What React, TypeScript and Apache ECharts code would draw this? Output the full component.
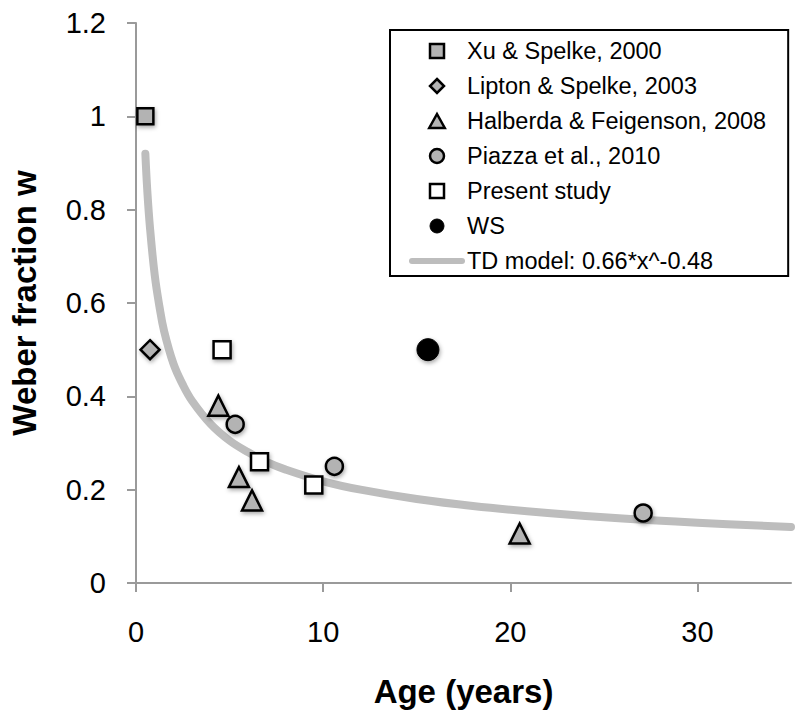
import React, { useEffect, useRef } from "react";
import * as echarts from "echarts";

const FONT = "'Liberation Sans', Arial, Helvetica, sans-serif";

const xuSpelke: number[][] = [[0.5, 1.0]];
const liptonSpelke: number[][] = [[0.75, 0.5]];
const halberda: number[][] = [[4.4, 0.38], [5.5, 0.227], [6.2, 0.177], [20.5, 0.106]];
const piazza: number[][] = [[5.3, 0.34], [10.6, 0.25], [27.1, 0.15]];
const presentStudy: number[][] = [[4.6, 0.5], [6.6, 0.26], [9.5, 0.21]];
const ws: number[][] = [[15.6, 0.5]];

const modelAges: number[] = [0.5, 0.6, 0.75, 1, 1.25, 1.5, 2, 2.5, 3, 4, 5, 6, 7, 8, 10, 12, 15, 18, 22, 26, 30, 35];
const modelW: number[] = [0.92, 0.843, 0.76, 0.66, 0.593, 0.54, 0.47, 0.425, 0.39, 0.34, 0.305, 0.28, 0.259, 0.243, 0.218, 0.2, 0.18, 0.165, 0.15, 0.138, 0.129, 0.12];

const xTicks: number[] = [0, 10, 20, 30];

const names = [
  "Xu & Spelke, 2000",
  "Lipton & Spelke, 2003",
  "Halberda & Feigenson, 2008",
  "Piazza et al., 2010",
  "Present study",
  "WS",
  "TD model: 0.66*x^-0.48",
];

const ICON_SQUARE = "path://M0,0 L10,0 L10,10 L0,10 Z";
const ICON_DIAMOND = "path://M5,0 L10,5 L5,10 L0,5 Z";
const ICON_TRIANGLE = "path://M5,0 L10,9 L0,9 Z";
const ICON_CIRCLE = "path://M0,5 A5,5 0 1,1 10,5 A5,5 0 1,1 0,5 Z";

export default function App() {
  const ref = useRef<HTMLDivElement>(null);
  useEffect(() => {
    if (!ref.current) return;
    const chart = echarts.init(ref.current, undefined, { renderer: "svg" });
    const shadow = {
      shadowBlur: 4,
      shadowColor: "rgba(0,0,0,0.35)",
      shadowOffsetX: 1,
      shadowOffsetY: 2,
    };
    const scatter = (name: string, data: number[][], symbol: string, size: number, fill: string, bw: number) => ({
      name,
      type: "scatter",
      data,
      symbol,
      symbolSize: size,
      z: 3,
      itemStyle: { color: fill, borderColor: "#000", borderWidth: bw, opacity: 1, ...shadow },
      emphasis: { disabled: true },
    });
    const icons = [ICON_SQUARE, ICON_DIAMOND, ICON_TRIANGLE, ICON_CIRCLE, ICON_SQUARE, ICON_CIRCLE];
    const legendData: any[] = names.slice(0, 6).map((n, i) => ({
      name: n,
      icon: icons[i],
      itemStyle: { borderColor: "#000", borderWidth: i === 5 ? 1 : 2.5 },
    }));
    legendData.push({
      name: names[6],
      itemStyle: { color: "rgba(0,0,0,0)", borderWidth: 0, opacity: 0 },
      lineStyle: { color: "#bdbdbd", width: 6, cap: "round" },
    });
    chart.setOption({
      animation: false,
      backgroundColor: "#fff",
      textStyle: { fontFamily: FONT },
      grid: { left: 136, right: 9, top: 23, bottom: 138, containLabel: false },
      legend: {
        orient: "vertical",
        left: 390,
        top: 30,
        padding: [9, 22, 3, 19],
        itemGap: 11,
        itemWidth: 50,
        itemHeight: 14,
        symbolKeepAspect: true,
        borderColor: "#000",
        borderWidth: 2,
        borderRadius: 0,
        backgroundColor: "#fff",
        data: legendData,
        itemStyle: { shadowBlur: 0, shadowOffsetX: 0, shadowOffsetY: 0 },
        textStyle: { fontFamily: FONT, fontSize: 23.5, color: "#000", lineHeight: 24 },
        selectedMode: false,
      },
      xAxis: {
        type: "value",
        min: 0,
        max: 35,
        interval: 10,
        name: "Age (years)",
        nameLocation: "middle",
        nameGap: 92,
        nameTextStyle: { fontFamily: FONT, fontSize: 33, fontWeight: "bold", color: "#000" },
        axisLine: { show: true, lineStyle: { color: "#9a9a9a", width: 2 } },
        axisTick: { show: true, inside: false, length: 9, lineStyle: { color: "#9a9a9a", width: 2 }, customValues: xTicks },
        axisLabel: { fontFamily: FONT, fontSize: 29, color: "#000", margin: 34, customValues: xTicks },
        splitLine: { show: false },
      },
      yAxis: {
        type: "value",
        min: 0,
        max: 1.2,
        interval: 0.2,
        name: "Weber fraction w",
        nameLocation: "middle",
        nameGap: 95,
        nameTextStyle: { fontFamily: FONT, fontSize: 33, fontWeight: "bold", color: "#000" },
        axisLine: { show: true, lineStyle: { color: "#9a9a9a", width: 2 } },
        axisTick: { show: true, inside: false, length: 9, lineStyle: { color: "#9a9a9a", width: 2 } },
        axisLabel: { fontFamily: FONT, fontSize: 29, color: "#000", margin: 30 },
        splitLine: { show: false },
      },
      series: [
        {
          name: names[6],
          type: "line",
          data: modelAges.map((a, i) => [a, modelW[i]]),
          smooth: 0.4,
          symbol: "none",
          showSymbol: false,
          z: 1,
          lineStyle: { color: "#bdbdbd", width: 8, cap: "round", join: "round" },
          itemStyle: { color: "#bdbdbd" },
          emphasis: { disabled: true },
        },
        scatter(names[0], xuSpelke, "rect", 16, "#b3b3b3", 2.5),
        scatter(names[1], liptonSpelke, "diamond", 19, "#b3b3b3", 2.5),
        scatter(names[2], halberda, "triangle", 20, "#b3b3b3", 2.5),
        scatter(names[3], piazza, "circle", 17, "#b3b3b3", 2.5),
        scatter(names[4], presentStudy, "rect", 17, "#ffffff", 2.5),
        scatter(names[5], ws, "circle", 22, "#000000", 1),
      ],
    });
    return () => chart.dispose();
  }, []);
  return (
    <div
      ref={ref}
      style={{ position: "fixed", left: 0, top: 0, width: 800, height: 721, background: "#fff" }}
    />
  );
}
